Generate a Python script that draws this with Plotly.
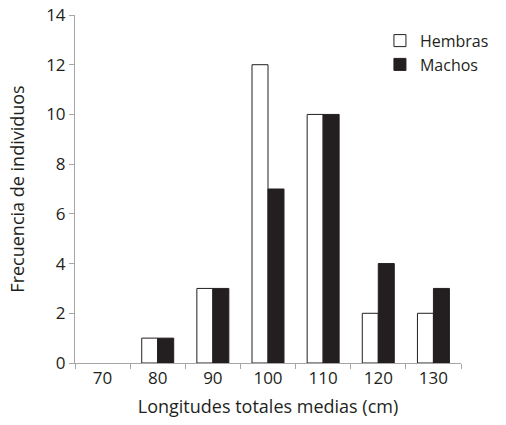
import plotly.graph_objects as go

categorias = ["70", "80", "90", "100", "110", "120", "130"]
hembras = [0, 1, 3, 12, 10, 2, 2]
machos = [0, 1, 3, 7, 10, 4, 3]

edge = "#231f20"
fig = go.Figure()
fig.add_trace(go.Bar(x=categorias, y=hembras, name="Hembras", showlegend=False,
                     offsetgroup="h",
                     marker=dict(color="white",
                                 line=dict(color=edge,
                                           width=[1 if v > 0 else 0 for v in hembras]))))
fig.add_trace(go.Bar(x=categorias, y=machos, name="Machos", showlegend=False,
                     offsetgroup="m",
                     marker=dict(color=edge,
                                 line=dict(color=edge,
                                           width=[1 if v > 0 else 0 for v in machos]))))
# legend entries
fig.add_trace(go.Bar(x=[None], y=[None], name="Hembras", showlegend=True, offsetgroup="h",
                     marker=dict(color="white", line=dict(color=edge, width=1))))
fig.add_trace(go.Bar(x=[None], y=[None], name="Machos", showlegend=True, offsetgroup="m",
                     marker=dict(color=edge, line=dict(color=edge, width=1))))

font_family = "Open Sans"
fig.update_layout(
    width=506, height=425,
    margin=dict(l=75, r=40, t=15, b=62),
    paper_bgcolor="white", plot_bgcolor="white",
    barmode="group", bargap=0.42, bargroupgap=0,
    font=dict(family=font_family, size=17, color=edge),
    showlegend=True,
    legend=dict(x=0.79, y=0.975, xanchor="left", yanchor="top",
                bgcolor="rgba(0,0,0,0)", font=dict(size=16),
                itemwidth=30, tracegroupgap=0),
)
fig.update_xaxes(
    type="category", categoryorder="array", categoryarray=categorias,
    tickson="boundaries", automargin=False,
    showline=True, linecolor="#a6a6a6", linewidth=1,
    ticks="outside", ticklen=5, tickcolor="#a6a6a6",
    showgrid=False, zeroline=False,
    title=dict(text="Longitudes totales medias (cm)", font=dict(size=18), standoff=11),
)
fig.update_yaxes(
    range=[0, 14], dtick=2, automargin=False, ticklabeloverflow="allow",
    showline=True, linecolor="#a6a6a6", linewidth=1,
    ticks="outside", ticklen=5, tickcolor="#a6a6a6",
    showgrid=False, zeroline=False,
    title=dict(text="Frecuencia de individuos", font=dict(size=18), standoff=16),
)

fig.write_html("out.html", config={"displayModeBar": False},
               post_script="document.body.style.margin='0';document.body.style.overflow='hidden';")
